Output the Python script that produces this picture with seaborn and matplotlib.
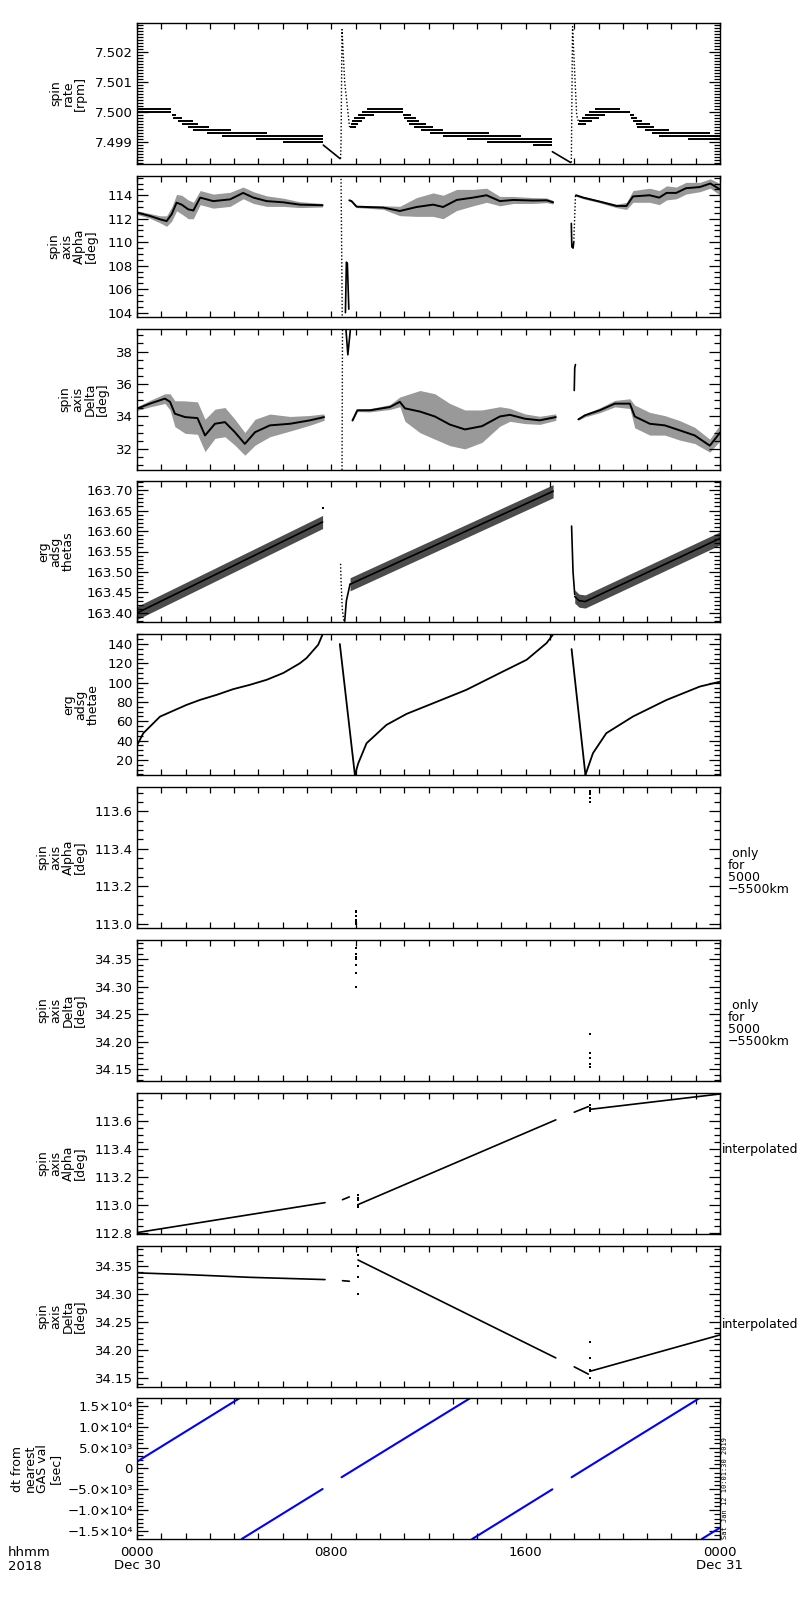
import numpy as np
import pandas as pd
import matplotlib
matplotlib.use("Agg")
import matplotlib.pyplot as plt
from matplotlib.ticker import FixedLocator, FixedFormatter, MultipleLocator, FormatStrFormatter
import seaborn as sns

# ---------------- data (time in hours of Dec 30) ----------------
# panel 1: spin rate staircase (t_start, t_end, level)
rate_step_t0 = [0, 0, 1.45, 1.5, 1.7, 1.85, 2.1, 2.3, 2.9, 3.5, 4.9, 6.0,
                8.75, 8.8, 8.85, 8.95, 9.1, 9.25, 9.45, 10.96, 11.0, 11.1, 11.2, 11.4, 11.7, 12.06, 12.6, 13.6, 14.4, 16.3,
                18.15, 18.2, 18.3, 18.45, 18.6, 18.84, 20.3, 20.35, 20.4, 20.55, 20.6, 20.9, 21.2, 21.5, 22.7]
rate_step_t1 = [1.42, 1.42, 1.6, 1.85, 2.3, 2.5, 2.95, 3.85, 5.35, 7.67, 7.67, 7.67,
                9.0, 9.1, 9.25, 9.4, 9.75, 10.96, 10.96, 11.3, 11.5, 11.6, 11.9, 12.2, 12.6, 14.5, 15.8, 17.1, 17.1, 17.1,
                18.5, 18.75, 19.0, 19.25, 20.3, 19.88, 20.45, 20.6, 20.8, 21.1, 21.3, 21.9, 23.6, 24.0, 24.0]
rate_step_v = [7.5001, 7.5000, 7.4999, 7.4998, 7.4997, 7.4996, 7.4995, 7.4994, 7.4993, 7.4992, 7.4991, 7.4990,
               7.4995, 7.4996, 7.4997, 7.4998, 7.4999, 7.5000, 7.5001, 7.4999, 7.4998, 7.4997, 7.4996, 7.4995, 7.4994,
               7.4993, 7.4992, 7.4991, 7.4990, 7.4989,
               7.4996, 7.4997, 7.4998, 7.4999, 7.5000, 7.5001, 7.4999, 7.4998, 7.4997, 7.4996, 7.4995, 7.4994,
               7.4993, 7.4992, 7.4991]
rate_decl1_t = [7.67, 8.36]
rate_decl1_v = [7.4989, 7.49845]
rate_decl2_t = [17.1, 17.85]
rate_decl2_v = [7.49868, 7.49832]
rate_spike1_t = [8.38, 8.40, 8.44, 8.55, 8.75]
rate_spike1_v = [7.49845, 7.4990, 7.50275, 7.5010, 7.4995]
rate_spike2_t = [17.88, 17.93, 18.1, 18.2]
rate_spike2_v = [7.49832, 7.50285, 7.4999, 7.4996]

# panel 2: spin axis Alpha (centre and spread of the noisy band)
alpha1_t = [0, 0.53, 0.95, 1.22, 1.43, 1.63, 1.84, 2.11, 2.32, 2.6, 3.14, 3.83, 4.37, 4.79, 5.34, 6.02, 6.7, 7.64]
alpha1_v = [112.52, 112.24, 111.95, 111.8, 112.4, 113.37, 113.2, 112.8, 112.7, 113.8, 113.5, 113.65, 114.2,
            113.8, 113.5, 113.4, 113.2, 113.15]
alpha1_w = [0.15, 0.2, 0.3, 0.45, 0.6, 0.7, 0.8, 0.8, 0.7, 0.6, 0.6, 0.6, 0.5, 0.5, 0.45, 0.35, 0.25, 0.15]
alpha2_t = [8.74, 8.83, 9.04, 10.14, 10.82, 11.51, 12.19, 12.6, 13.16, 13.84, 14.39, 14.94, 15.49, 16.3, 16.86, 17.13]
alpha2_v = [113.57, 113.5, 113.03, 112.95, 112.66, 113.0, 113.2, 113.0, 113.6, 113.8, 114.0, 113.5, 113.6,
            113.55, 113.57, 113.4]
alpha2_w = [0.05, 0.05, 0.08, 0.15, 0.4, 0.8, 1.0, 1.0, 0.9, 0.7, 0.6, 0.4, 0.3, 0.25, 0.2, 0.15]
alpha3_t = [18.07, 18.37, 19.05, 19.74, 20.15, 20.42, 21.1, 21.5, 21.8, 22.2, 22.6, 23.17, 23.6, 24.0]
alpha3_v = [114.0, 113.8, 113.46, 113.09, 113.09, 113.9, 114.0, 113.8, 114.2, 114.2, 114.6, 114.7, 115.0, 114.5]
alpha3_w = [0.08, 0.1, 0.1, 0.15, 0.3, 0.5, 0.6, 0.6, 0.6, 0.5, 0.5, 0.4, 0.4, 0.5]
alpha_spike1_t = [8.40, 8.45]
alpha_spike1_v = [115.4, 103.6]
alpha_spike1b_t = [8.58, 8.62, 8.66, 8.72]
alpha_spike1b_v = [104.0, 108.3, 108.2, 104.3]
alpha_spike2_t = [17.88, 17.90, 17.95, 17.98]
alpha_spike2_v = [111.6, 109.6, 109.5, 110.0]
alpha_spike2b_t = [17.98, 18.05]
alpha_spike2b_v = [110.0, 114.0]

# panel 3: spin axis Delta
delta1_t = [0, 0.53, 1.15, 1.36, 1.56, 1.98, 2.49, 2.8, 3.21, 3.62, 4.03, 4.44, 4.86, 5.47, 6.3, 7.12, 7.7]
delta1_v = [34.48, 34.79, 35.1, 34.9, 34.17, 33.96, 33.9, 32.83, 33.55, 33.65, 33.03, 32.31, 33.03, 33.45,
            33.55, 33.76, 33.96]
delta1_w = [0.12, 0.2, 0.3, 0.5, 0.8, 1.0, 1.0, 1.0, 0.9, 0.9, 0.8, 0.7, 0.8, 0.7, 0.45, 0.3, 0.2]
delta2_t = [8.87, 9.07, 9.59, 10.41, 10.82, 11.03, 11.65, 12.26, 12.88, 13.5, 14.2, 14.94, 15.35, 15.97, 16.58, 17.24]
delta2_v = [33.75, 34.38, 34.38, 34.58, 34.9, 34.5, 34.3, 34.0, 33.5, 33.2, 33.4, 34.0, 34.1, 33.86, 33.76, 33.96]
delta2_w = [0.05, 0.08, 0.1, 0.15, 0.3, 0.8, 1.3, 1.4, 1.3, 1.2, 1.0, 0.6, 0.4, 0.3, 0.25, 0.2]
delta3_t = [18.17, 18.44, 19.05, 19.67, 20.29, 20.49, 21.11, 21.73, 22.35, 22.96, 23.58, 24.0]
delta3_v = [33.82, 34.07, 34.38, 34.79, 34.79, 34.0, 33.55, 33.45, 33.14, 32.83, 32.2, 33.0]
delta3_w = [0.05, 0.1, 0.15, 0.2, 0.3, 0.7, 0.7, 0.6, 0.6, 0.5, 0.4, 0.5]
delta_spike1_t = [8.44, 8.46]
delta_spike1_v = [30.7, 39.4]
delta_spike1b_t = [8.6, 8.68, 8.78]
delta_spike1b_v = [39.4, 37.8, 39.3]
delta_spike2_t = [18.0, 18.02, 18.05]
delta_spike2_v = [35.6, 37.0, 37.2]

# panel 4: erg adsg thetas
thetas1_t = [0, 7.64]
thetas1_v = [163.400, 163.622]
thetas2_t = [8.77, 17.13]
thetas2_v = [163.470, 163.697]
thetas3_t = [18.02, 18.2, 18.45, 24.0]
thetas3_v = [163.44, 163.43, 163.428, 163.582]
thetas_spread = 0.016
thetas_spike1_t = [8.38, 8.40, 8.45, 8.52]
thetas_spike1_v = [163.52, 163.48, 163.41, 163.378]
thetas_spike1b_t = [8.55, 8.62, 8.77]
thetas_spike1b_v = [163.38, 163.43, 163.47]
thetas_drop2_t = [17.89, 17.95, 18.02]
thetas_drop2_v = [163.612, 163.50, 163.445]

# panel 5: erg adsg thetae
thetae1_t = [0, 0.26, 0.95, 2.04, 2.6, 3.28, 3.96, 4.65, 5.34, 6.02, 6.7, 6.98, 7.46, 7.64]
thetae1_v = [35, 47.7, 64.9, 77, 82.2, 87.4, 93.3, 97.8, 103, 110, 120, 125.5, 139.3, 150]
thetae_drop1_t = [8.35, 8.97]
thetae_drop1_v = [140, 4.4]
thetae2_t = [8.97, 9.11, 9.45, 10.27, 11.1, 12.2, 13.56, 14.94, 16.04, 16.86, 17.13]
thetae2_v = [4.5, 16.6, 37.3, 56.3, 67.7, 78.8, 92.6, 110, 123.7, 141, 150]
thetae_drop2_t = [17.89, 18.46]
thetae_drop2_v = [134.8, 4.5]
thetae3_t = [18.46, 18.77, 19.32, 20.42, 21.79, 23.17, 24.0]
thetae3_v = [4.5, 27, 47.7, 65, 82, 96, 101]

# panels 6/7: only for 5000-5500 km
alpha_only_t = [9.03] * 6 + [18.64] * 5
alpha_only_v = [113.0, 113.01, 113.02, 113.04, 113.06, 113.07, 113.65, 113.67, 113.69, 113.70, 113.71]
delta_only_t = [9.03] * 8 + [18.64] * 5
delta_only_v = [34.30, 34.325, 34.34, 34.35, 34.355, 34.36, 34.37, 34.385, 34.155, 34.16, 34.17, 34.18, 34.215]

# panels 8/9: interpolated
alpha_int_segs = [([0, 7.74], [112.8, 113.014]), ([8.46, 8.74], [113.035, 113.055]),
                  ([9.1, 17.24], [113.0, 113.605]), ([18.0, 18.58], [113.66, 113.70]),
                  ([18.64, 24.0], [113.68, 113.79])]
alpha_int_dot_t = [9.1] * 5 + [18.64] * 3
alpha_int_dot_v = [112.98, 113.0, 113.03, 113.05, 113.07, 113.67, 113.69, 113.71]
delta_int_segs = [([0, 1.98, 4.65, 7.74], [34.338, 34.335, 34.330, 34.326]), ([8.46, 8.74], [34.324, 34.323]),
                  ([9.1, 17.24], [34.361, 34.186]), ([18.0, 18.58], [34.170, 34.157]),
                  ([18.64, 24.0], [34.162, 34.227])]
delta_int_dot_t = [9.1] * 5 + [18.64] * 4
delta_int_dot_v = [34.30, 34.33, 34.35, 34.37, 34.385, 34.15, 34.165, 34.185, 34.215]

# panel 10: dt from nearest GAS value
dt_segs = [([0, 4.24], [1632, 16900]), ([4.31, 7.64], [-16900, -4920]), ([8.42, 13.73], [-2112, 16900]),
           ([13.8, 17.1], [-16900, -4992]), ([17.89, 23.17], [-2112, 16900]), ([23.25, 24.0], [-16900, -14200])]

# axes decoration
ylabels = ["spin\nrate\n[rpm]", "spin\naxis\nAlpha\n[deg]", "spin\naxis\nDelta\n[deg]", "erg\nadsg\nthetas",
           "erg\nadsg\nthetae", "spin\naxis\nAlpha\n[deg]", "spin\naxis\nDelta\n[deg]", "spin\naxis\nAlpha\n[deg]",
           "spin\naxis\nDelta\n[deg]", "dt from\nnearest\nGAS val\n[sec]"]
ylims = [(7.49827, 7.50297), (103.63, 115.64), (30.70, 39.39), (163.378, 163.722), (4.4, 150.4),
         (112.977, 113.73), (34.129, 34.385), (112.79, 113.797), (34.134, 34.386), (-16900, 16880)]
yticks = [[7.499, 7.500, 7.501, 7.502], [104, 106, 108, 110, 112, 114], [32, 34, 36, 38],
          [163.40, 163.45, 163.50, 163.55, 163.60, 163.65, 163.70], [20, 40, 60, 80, 100, 120, 140],
          [113.0, 113.2, 113.4, 113.6], [34.15, 34.20, 34.25, 34.30, 34.35],
          [112.8, 113.0, 113.2, 113.4, 113.6], [34.15, 34.20, 34.25, 34.30, 34.35],
          [-15000, -10000, -5000, 0, 5000, 10000, 15000]]
yminor = [0.0001, 0.5, 0.5, 0.01, 5, 0.05, 0.01, 0.05, 0.01, 1000]
yfmt = ["%.3f", "%d", "%d", "%.2f", "%d", "%.1f", "%.2f", "%.1f", "%.2f", None]
dt_ticklabels = ["\u22121.5\u00d710\u2074", "\u22121.0\u00d710\u2074", "\u22125.0\u00d710\u00b3", "0",
                 "5.0\u00d710\u00b3", "1.0\u00d710\u2074", "1.5\u00d710\u2074"]
label_x = [-0.118, -0.110, -0.091, -0.139, -0.096, -0.129, -0.129, -0.129, -0.129, -0.172]
right_notes = [None, None, None, None, None, " only\nfor\n5000\n\u22125500km", " only\nfor\n5000\n\u22125500km",
               "interpolated", "interpolated", None]
right_note_y = [0, 0, 0, 0, 0, 0.40, 0.41, 0.60, 0.44, 0]
xtick_labels = ["0000\nDec 30", "0800", "1600", "0000\nDec 31"]

# ---------------- drawing helpers ----------------
def draw_segs(ax, segs, color="black", lw=1.2, ls="-"):
    rows = []
    for k, (ts, vs) in enumerate(segs):
        for t, v in zip(ts, vs):
            rows.append({"t": t, "v": v, "seg": k})
    df = pd.DataFrame(rows)
    sns.lineplot(data=df, x="t", y="v", units="seg", estimator=None, sort=False,
                 color=color, lw=lw, linestyle=ls, ax=ax, legend=False)

def draw_band(ax, ts, vs, ws, alpha=0.4, lw=1.4):
    ts, vs, ws = np.asarray(ts), np.asarray(vs), np.asarray(ws)
    ax.fill_between(ts, vs - ws, vs + ws, color="black", alpha=alpha, lw=0)
    draw_segs(ax, [(ts, vs)], lw=lw)

def draw_dots(ax, ts, vs, size=3):
    sns.scatterplot(x=ts, y=vs, ax=ax, color="black", s=size, marker="s", linewidth=0, legend=False)

sns.set_style("ticks")
plt.rcParams["font.family"] = ["DejaVu Sans"]
plt.rcParams["axes.linewidth"] = 1.0
plt.rcParams["text.color"] = "black"
plt.rcParams["xtick.color"] = "black"
plt.rcParams["ytick.color"] = "black"
plt.rcParams["axes.edgecolor"] = "black"

fig = plt.figure(figsize=(8, 16), dpi=100)
tops = [23, 176, 329, 481, 634, 787, 940, 1093, 1246, 1398]
H = 141
axes = [fig.add_axes([137 / 800, 1 - (tp + H) / 1600, 583 / 800, H / 1600]) for tp in tops]
dotted = (0, (1, 1.5))

# panel 1
ax = axes[0]
ax.hlines(rate_step_v, rate_step_t0, rate_step_t1, color="black", lw=1.4)
draw_segs(ax, [(rate_decl1_t, rate_decl1_v), (rate_decl2_t, rate_decl2_v)], lw=1.2)
draw_segs(ax, [(rate_spike1_t, rate_spike1_v), (rate_spike2_t, rate_spike2_v)], lw=1.0, ls=dotted)

# panel 2
ax = axes[1]
draw_band(ax, alpha1_t, alpha1_v, alpha1_w)
draw_band(ax, alpha2_t, alpha2_v, alpha2_w)
draw_band(ax, alpha3_t, alpha3_v, alpha3_w)
draw_segs(ax, [(alpha_spike1_t, alpha_spike1_v), (alpha_spike2b_t, alpha_spike2b_v)], lw=1.0, ls=dotted)
draw_segs(ax, [(alpha_spike1b_t, alpha_spike1b_v), (alpha_spike2_t, alpha_spike2_v)], lw=1.2)

# panel 3
ax = axes[2]
draw_band(ax, delta1_t, delta1_v, delta1_w)
draw_band(ax, delta2_t, delta2_v, delta2_w)
draw_band(ax, delta3_t, delta3_v, delta3_w)
draw_segs(ax, [(delta_spike1_t, delta_spike1_v)], lw=1.0, ls=dotted)
draw_segs(ax, [(delta_spike1b_t, delta_spike1b_v), (delta_spike2_t, delta_spike2_v)], lw=1.2)

# panel 4
ax = axes[3]
for ts, vs in [(thetas1_t, thetas1_v), (thetas2_t, thetas2_v), (thetas3_t, thetas3_v)]:
    draw_band(ax, ts, vs, [thetas_spread] * len(ts), alpha=0.7, lw=1.2)
draw_segs(ax, [(thetas_spike1_t, thetas_spike1_v)], lw=1.0, ls=dotted)
draw_segs(ax, [(thetas_spike1b_t, thetas_spike1b_v), (thetas_drop2_t, thetas_drop2_v)], lw=1.2)
draw_dots(ax, [7.64], [163.657])

# panel 5
ax = axes[4]
draw_segs(ax, [(thetae1_t, thetae1_v), (thetae_drop1_t, thetae_drop1_v), (thetae2_t, thetae2_v),
               (thetae_drop2_t, thetae_drop2_v), (thetae3_t, thetae3_v)], lw=1.3)

# panels 6, 7
draw_dots(axes[5], alpha_only_t, alpha_only_v)
draw_dots(axes[6], delta_only_t, delta_only_v)

# panels 8, 9
draw_segs(axes[7], alpha_int_segs, lw=1.2)
draw_dots(axes[7], alpha_int_dot_t, alpha_int_dot_v)
draw_segs(axes[8], delta_int_segs, lw=1.2)
draw_dots(axes[8], delta_int_dot_t, delta_int_dot_v)

# panel 10
draw_segs(axes[9], dt_segs, color="blue", lw=1.5)

for i, ax in enumerate(axes):
    ax.set_xlim(0, 24)
    ax.set_ylim(*ylims[i])
    ax.set_xlabel("")
    ax.set_ylabel("")
    ax.xaxis.set_major_locator(FixedLocator([0, 8, 16, 24]))
    ax.xaxis.set_minor_locator(MultipleLocator(1))
    ax.yaxis.set_major_locator(FixedLocator(yticks[i]))
    ax.yaxis.set_minor_locator(MultipleLocator(yminor[i]))
    if yfmt[i]:
        ax.yaxis.set_major_formatter(FormatStrFormatter(yfmt[i]))
    else:
        ax.yaxis.set_major_formatter(FixedFormatter(dt_ticklabels))
    ax.tick_params(axis="both", which="both", direction="in", top=True, right=True, width=0.9,
                   labelsize=9.5, colors="black")
    ax.tick_params(axis="y", which="major", length=8, pad=3)
    ax.tick_params(axis="y", which="minor", length=4)
    ax.tick_params(axis="x", which="both", length=4)
    if i < 9:
        ax.set_xticklabels([])
    else:
        ax.set_xticklabels(xtick_labels, fontsize=9.5, linespacing=1.05)
        ax.tick_params(axis="x", pad=5)
    for sp in ax.spines.values():
        sp.set_visible(True)
        sp.set_color("black")
    ax.text(label_x[i], 0.5, ylabels[i], transform=ax.transAxes, rotation=90, ha="center", va="center",
            multialignment="center", fontsize=9, linespacing=0.95, color="black")
    if right_notes[i]:
        xoff = 1.003 if right_notes[i] == "interpolated" else 1.013
        ax.text(xoff, right_note_y[i], right_notes[i], transform=ax.transAxes, ha="left", va="center",
                fontsize=9, linespacing=0.9, color="black")

axes[9].text(1.003, 0.0, "Sat Jan 12 10:01:30 2019", transform=axes[9].transAxes, rotation=90,
             ha="left", va="bottom", fontsize=5, family="DejaVu Sans Mono", color="black")
fig.text(8 / 800, 1 - 1546 / 1600, "hhmm\n2018", ha="left", va="top", fontsize=9.5, linespacing=1.05,
         color="black")

fig.savefig("out.png", dpi=100, facecolor="white")
